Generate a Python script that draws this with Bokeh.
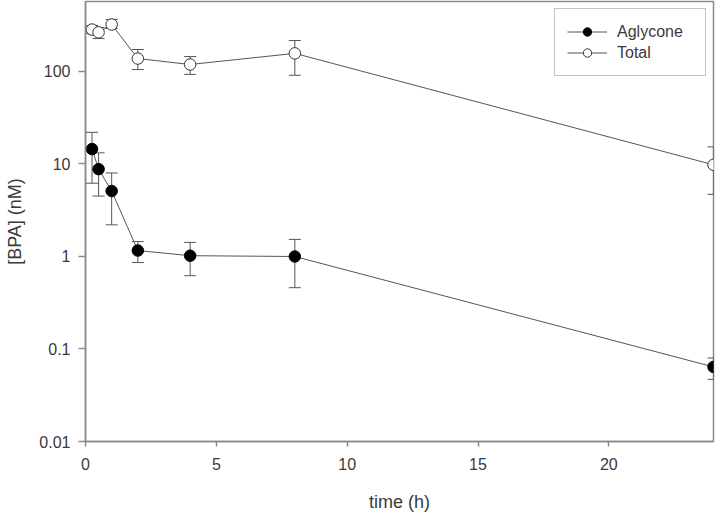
from bokeh.plotting import figure
from bokeh.models import (ColumnDataSource, Whisker, TeeHead, FixedTicker,
                          CustomJSTickFormatter, Range1d)
from bokeh.embed import file_html
from bokeh.resources import INLINE

# ---- data ----
time_h = [0.25, 0.5, 1, 2, 4, 8, 24]
aglycone = [14.5, 8.8, 5.1, 1.16, 1.02, 1.0, 0.064]
aglycone_upper = [22.0, 13.2, 8.0, 1.45, 1.42, 1.53, 0.080]
aglycone_lower = [6.2, 4.5, 2.2, 0.86, 0.62, 0.46, 0.047]
total = [284, 265, 322, 138, 119, 157, 9.8]
total_upper = [314, 299, 365, 173, 145, 216, 15.3]
total_lower = [257, 227, 292, 105, 93, 91, 4.7]
x_ticks = [0, 5, 10, 15, 20]
y_ticks = [0.01, 0.1, 1, 10, 100]

FONT = "Liberation Sans"
TXT = "#3a3a3a"
AX = "#8a8a8a"
LN = "#555555"

p = figure(width=720, height=514, y_axis_type="log",
           x_range=Range1d(0, 24), y_range=Range1d(0.01, 571),
           output_backend="svg", toolbar_location=None,
           min_border_left=85, min_border_right=7, min_border_top=1,
           min_border_bottom=73)
p.grid.visible = False
p.outline_line_color = AX
p.outline_line_width = 1.5

src_a = ColumnDataSource(dict(x=time_h, y=aglycone, up=aglycone_upper, lo=aglycone_lower))
src_t = ColumnDataSource(dict(x=time_h, y=total, up=total_upper, lo=total_lower))

for src in (src_a, src_t):
    w = Whisker(base="x", upper="up", lower="lo", source=src,
                line_color=LN, line_width=1, level="underlay",
                upper_head=TeeHead(size=12, line_color=LN, line_width=1),
                lower_head=TeeHead(size=12, line_color=LN, line_width=1))
    p.add_layout(w)

p.line("x", "y", source=src_a, line_color=LN, line_width=1, legend_label="Aglycone")
p.scatter("x", "y", source=src_a, size=11.5, fill_color="black", line_color="black",
          legend_label="Aglycone")
p.line("x", "y", source=src_t, line_color=LN, line_width=1, legend_label="Total")
p.scatter("x", "y", source=src_t, size=11.5, fill_color="white", line_color="#333333",
          line_width=1, legend_label="Total")

# axes
for ax in (p.xaxis[0], p.yaxis[0]):
    ax.axis_line_color = AX
    ax.axis_line_width = 1.5
    ax.major_tick_line_color = AX
    ax.major_tick_line_width = 1.5
    ax.major_tick_in = 0
    ax.minor_tick_line_color = None
    ax.major_label_text_font = FONT
    ax.major_label_text_font_size = "16px"
    ax.major_label_text_color = TXT
    ax.axis_label_text_font = FONT
    ax.axis_label_text_font_size = "18px"
    ax.axis_label_text_font_style = "normal"
    ax.axis_label_text_color = TXT

p.xaxis.ticker = FixedTicker(ticks=x_ticks)
p.xaxis.major_tick_out = 5
p.xaxis.major_label_standoff = 11
p.xaxis.axis_label = "time (h)"
p.xaxis.axis_label_standoff = 19

p.yaxis.ticker = FixedTicker(ticks=y_ticks)
p.yaxis.formatter = CustomJSTickFormatter(code="return tick.toString();")
p.yaxis.major_tick_out = 7
p.yaxis.major_label_standoff = 8
p.yaxis.axis_label = "[BPA] (nM)"
p.yaxis.axis_label_standoff = 11

# legend
lg = p.legend[0]
lg.location = "top_right"
lg.margin = 7
lg.padding = 12
lg.spacing = 0
lg.border_line_color = AX
lg.border_line_width = 1.5
lg.background_fill_color = "white"
lg.background_fill_alpha = 1
lg.label_text_font = FONT
lg.label_text_font_size = "16px"
lg.label_text_color = TXT
lg.glyph_width = 40
lg.glyph_height = 21
lg.label_height = 21
lg.label_width = 76
lg.label_standoff = 10

open("out.html", "w").write(file_html(p, INLINE))
